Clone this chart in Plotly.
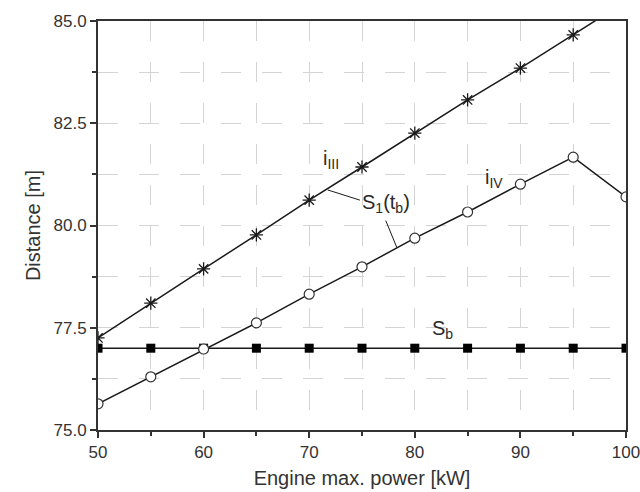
import plotly.graph_objects as go

power = [50, 55, 60, 65, 70, 75, 80, 85, 90, 95, 100]
s1_iIII = [77.25, 78.10, 78.94, 79.77, 80.62, 81.43, 82.26, 83.07, 83.85, 84.66, 85.48]
s1_iIV = [75.64, 76.30, 76.98, 77.62, 78.32, 78.99, 79.69, 80.33, 81.01, 81.67, 80.70]
s_b = [77.0] * 11

line_col = "#1a1a1a"
fig = go.Figure()
fig.add_trace(go.Scatter(x=power, y=s_b, mode="lines+markers",
                         line=dict(color=line_col, width=1.5),
                         marker=dict(symbol="square", size=9, color="#000000"),
                         showlegend=False))
fig.add_trace(go.Scatter(x=power, y=s1_iIV, mode="lines+markers",
                         line=dict(color=line_col, width=1.5),
                         marker=dict(symbol="circle", size=10, color="white",
                                     line=dict(color="#333333", width=1.2)),
                         showlegend=False))
fig.add_trace(go.Scatter(x=power, y=s1_iIII, mode="lines+markers",
                         line=dict(color=line_col, width=1.5),
                         marker=dict(symbol="asterisk-open", size=11,
                                     line=dict(color="#222222", width=1.3)),
                         showlegend=False))

ann_font = dict(family="Liberation Sans, Arial, sans-serif", size=20, color="#2a2a2a")
fig.add_annotation(x=72.1, y=81.62, text="i<sub>III</sub>", showarrow=False, font=ann_font)
fig.add_annotation(x=87.5, y=81.15, text="i<sub>IV</sub>", showarrow=False, font=ann_font)
fig.add_annotation(x=77.3, y=80.55, text="S<sub>1</sub>(t<sub>b</sub>)", showarrow=False, font=ann_font)
fig.add_annotation(x=82.6, y=77.45, text="S<sub>b</sub>", showarrow=False, font=ann_font)
# leader lines
fig.add_shape(type="line", x0=71.75, y0=80.87, x1=74.8, y1=80.62, line=dict(color=line_col, width=1))
fig.add_shape(type="line", x0=77.25, y0=80.12, x1=78.3, y1=79.46, line=dict(color=line_col, width=1))

font = dict(family="Liberation Sans, Arial, sans-serif", size=17, color="#333")
grid = dict(showgrid=True, gridcolor="#d4d4d4", griddash="20px,21px", gridwidth=1)
fig.update_layout(
    width=640, height=492,
    margin=dict(l=98, r=14, t=21, b=62),
    paper_bgcolor="white", plot_bgcolor="white",
    font=font,
    xaxis=dict(range=[50, 100], tickvals=[50, 60, 70, 80, 90, 100],
               ticks="outside", ticklen=6, tickwidth=1.5, tickcolor="#333",
               minor=dict(tickvals=[55, 65, 75, 85, 95], ticks="outside", ticklen=4,
                          tickcolor="#333", **grid),
               **grid,
               showline=True, linecolor="#333", linewidth=2, mirror=True,
               zeroline=False, automargin=False, ticklabeloverflow="allow",
               title=dict(text="Engine max. power [kW]", standoff=10, font=dict(size=20)),
               tickfont=dict(size=17)),
    yaxis=dict(range=[75, 85], tickvals=[75, 77.5, 80, 82.5, 85],
               ticktext=["75.0", "77.5", "80.0", "82.5", "85.0"],
               ticks="outside", ticklen=6, tickwidth=1.5, tickcolor="#333",
               minor=dict(tickvals=[76.25, 78.75, 81.25, 83.75], ticks="outside", ticklen=4,
                          tickcolor="#333", **grid),
               **grid,
               showline=True, linecolor="#333", linewidth=2, mirror=True,
               zeroline=False, automargin=False, ticklabeloverflow="allow",
               title=dict(text="Distance [m]", standoff=8, font=dict(size=20)),
               tickfont=dict(size=17)),
)
fig.write_html("out.html")
